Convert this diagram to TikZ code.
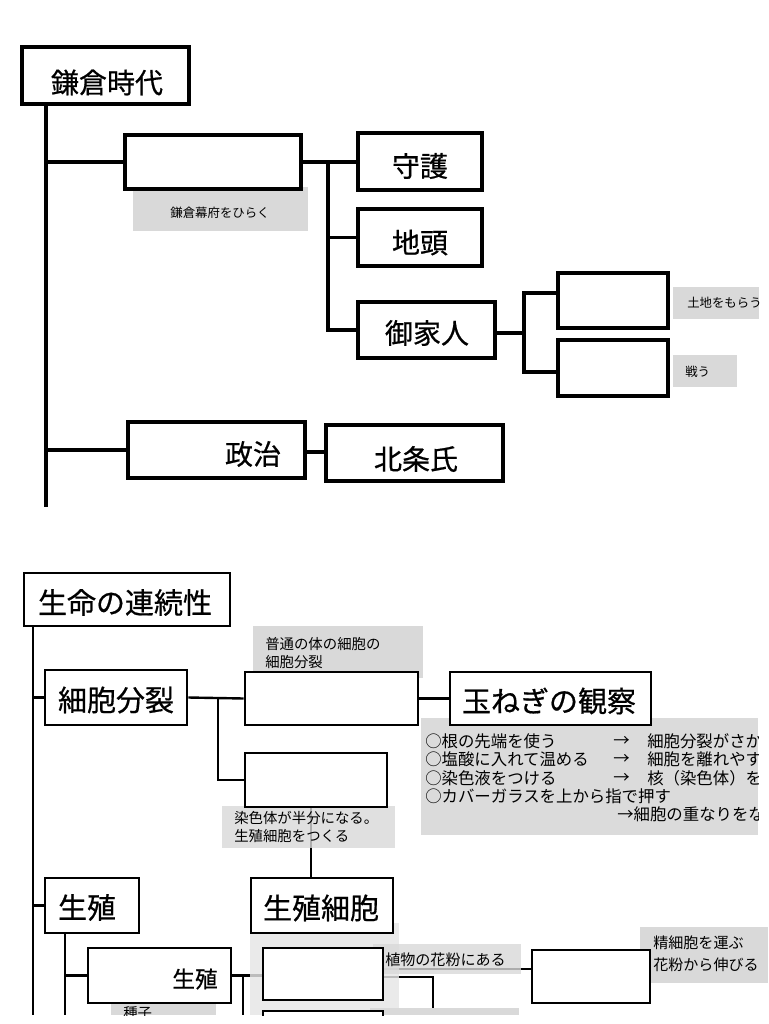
\documentclass[tikz,border=0pt]{standalone}
\usepackage{fontspec}
\setmainfont{Noto Sans CJK JP}
\newfontfamily\headfont[FakeBold=0.6]{Noto Sans CJK JP}
\usetikzlibrary{fit}
\definecolor{lbl}{HTML}{D9D9D9}
\definecolor{bgl}{HTML}{E6E6E6}
\pgfdeclarelayer{lines}
\pgfdeclarelayer{labels}
\pgfsetlayers{lines,labels,main}
\begin{document}
\begin{tikzpicture}[x=0.75pt,y=-0.75pt,
  tbox/.style={draw,line width=3pt,fill=white,inner sep=0pt},
  bbox/.style={draw,line width=2pt,fill=white,inner sep=0pt},
  tline/.style={line width=2.8pt},
  bline/.style={line width=1.8pt},
  glabel/.style={fill=lbl,draw=none,inner sep=0pt},
  hd/.style={inner sep=0pt,font=\headfont\fontsize{21}{21}\selectfont},
  hdb/.style={inner sep=0pt,font=\headfont\fontsize{21.75}{21.75}\selectfont},
  sm/.style={inner sep=0pt,anchor=west,font=\fontsize{9.3}{9.3}\selectfont},
  md/.style={inner sep=0pt,anchor=west,font=\fontsize{10.8}{10.8}\selectfont},
  mdl/.style={inner sep=0pt,anchor=west,font=\fontsize{11.3}{11.3}\selectfont},
  tx/.style={inner sep=0pt,anchor=west,font=\fontsize{12.3}{12.3}\selectfont}]
\useasboundingbox (0,0) rectangle (768,1024);
% ---------------- boxes (main layer) ----------------
\begin{scope}
\clip (0,0) rectangle (768,1015);
% top
\node[tbox, fit={(22,47)(189,104)}] (kam) {};
\node[tbox, fit={(125,135)(301,189)}] (b1) {};
\node[tbox, fit={(358,133)(482,190)}] (shugo) {};
\node[tbox, fit={(358,209)(482,266)}] (jito) {};
\node[tbox, fit={(358,302)(495,358)}] (goke) {};
\node[tbox, fit={(558,273)(668,328)}] (bA) {};
\node[tbox, fit={(558,340)(668,396)}] (bB) {};
\node[tbox, fit={(128,422)(305,478)}] (seiji) {};
\node[tbox, fit={(326,425)(503,481)}] (hojo) {};
% bottom
\node[bbox, fit={(24,573)(230,626)}] (seimei) {};
\node[bbox, fit={(45,670)(187,725)}] (bunretsu) {};
\node[bbox, fit={(245,672)(418,725)}] (bC) {};
\node[bbox, fit={(450,672)(651,725)}] (tama) {};
\node[bbox, fit={(245,753)(387,807)}] (bD) {};
\node[bbox, fit={(45,878)(139,933)}] (seishoku) {};
\node[bbox, fit={(251,878)(393,933)}] (ssaibou) {};
\node[bbox, fit={(88,948)(231,1003)}] (seishoku2) {};
\node[bbox, fit={(263,948)(383,1000)}] (bE) {};
\node[bbox, fit={(263,1011)(383,1040)}] (bF) {};
\node[bbox, fit={(532,950)(650,1003)}] (bG) {};
\end{scope}
% ---------------- connectors ----------------
\begin{pgfonlayer}{lines}
\fill[white] (0,0) rectangle (768,1024);
\coordinate (T1) at (46,507);
\draw[tline] (kam.south -| T1) -- (T1);
\draw[tline] (T1 |- b1.west) -- (b1.west);
\draw[tline] (T1 |- seiji.west) -- (seiji.west);
\draw[tline] (b1.east) -- (b1.east -| shugo.west);
\coordinate (V5) at (328,330);
\draw[tline] (V5 |- b1.east) -- (V5) -- (V5 -| goke.west);
\draw[tline] (V5 |- jito.west) -- (jito.west);
\coordinate (V6a) at (524,293);
\coordinate (V6b) at (524,372);
\draw[tline] (V6a -| bA.west) -- (V6a) -- (V6b) -- (V6b -| bB.west);
\draw[tline] (goke.east |- 0,333) -- (V6a |- 0,333);
\draw[tline] (seiji.east |- 0,452) -- (hojo.west |- 0,452);
% bottom
\coordinate (T2) at (33,1015);
\draw[bline] (seimei.south -| T2) -- (T2);
\draw[bline] (T2 |- bunretsu.west) -- (bunretsu.west);
\draw[bline] (T2 |- seishoku.west) -- (seishoku.west);
\draw[bline] (bunretsu.east) -- (bC.west);
\coordinate (J1) at (218,699);
\draw[bline] (J1) |- (bD.west);
\draw[bline] (bC.east) -- (tama.west);
\coordinate (V1) at (311,0);
\draw[bline] (bD.south -| V1) -- (ssaibou.north -| V1);
\coordinate (V2) at (65,1015);
\draw[bline] (seishoku.south -| V2) -- (V2);
\draw[bline] (V2 |- seishoku2.west) -- (seishoku2.west);
\draw[bline] (seishoku2.east) -- (seishoku2.east -| bE.west);
\coordinate (V3) at (243,1015);
\draw[bline] (V3 |- seishoku2.east) -- (V3);
\coordinate (V4) at (433,1015);
\draw[bline] (bE.east |- 0,977) -- (V4 |- 0,977) -- (V4);
\coordinate (H1) at (383,969);
\draw[bline] (H1) -- (H1 -| bG.west);
\end{pgfonlayer}
% ---------------- grey labels ----------------
\begin{pgfonlayer}{labels}
\node[glabel, fit={(133,187)(308,231)}] (g1) {};
\node[glabel, fit={(673,287)(759,319)}] (gA) {};
\node[glabel, fit={(673,355)(737,387)}] (gB) {};
\node[glabel, fit={(253,626)(423,678)}] (gFutsu) {};
\node[glabel, fill=lbl!95!white, fit={(421,718)(758,835)}] (gTama) {};
\node[glabel, fill opacity=0.8, fit={(222,806)(395,848)}] (gSen) {};
\node[glabel, fill=bgl, fill opacity=0.82, fit={(250,923)(399,1015)}] (gBig) {};
\node[glabel, fill opacity=0.8, fit={(373,944)(521,974)}] (gShoku) {};
\node[glabel, fit={(370,1008)(519,1015)}] (gLow) {};
\node[glabel, fit={(111,1004)(216,1015)}] (gShu) {};
\node[glabel, fit={(640,927)(768,983)}] (gSeisai) {};
\end{pgfonlayer}
% ---------------- texts ----------------
\node[hd] (tKam) at (107,82.5) {鎌倉時代};
\node[hd] (tShugo) at (420,166) {守護};
\node[hd] (tJito) at (420,242.5) {地頭};
\node[hd] (tGoke) at (427,333) {御家人};
\node[hd] (tSeiji) at (253,454) {政治};
\node[hd] (tHojo) at (416,459) {北条氏};
\node[sm, anchor=center] (tG1) at (220,213) {鎌倉幕府をひらく};
\begin{scope}
\clip (673,287) rectangle (759,319);
\node[sm] (tGA) at (687,303) {土地をもらう};
\end{scope}
\node[sm] (tGB) at (685,372) {戦う};
\node[hdb] (tSeimei) at (125,602.5) {生命の連続性};
\node[hdb] (tBun) at (116,700) {細胞分裂};
\node[hdb] (tTama) at (549,701) {玉ねぎの観察};
\node[hdb] (tSei) at (87,907.5) {生殖};
\node[hdb] (tSS) at (321,908) {生殖細胞};
\node[inner sep=0pt,font=\headfont\fontsize{17}{17}\selectfont] (tSei2) at (195,979) {生殖};
\node[md] (tF1) at (265,644) {普通の体の細胞の};
\node[md] (tF2) at (265,662.5) {細胞分裂};
\node[md] (tS1) at (234,818) {染色体が半分になる。};
\node[md] (tS2) at (234,836) {生殖細胞をつくる};
\node[mdl] (tShoku) at (385,960) {植物の花粉にある};
\node[mdl] (tSe1) at (653,943) {精細胞を運ぶ};
\node[mdl] (tSe2) at (653,965) {花粉から伸びる};
\begin{scope}
\clip (0,0) rectangle (768,1015);
\node[md] (tShu) at (123,1013) {種子};
\end{scope}
\begin{scope}
\clip (421,718) rectangle (758,835);
\node[tx] (l1a) at (425,741) {○根の先端を使う};
\node[tx] (l1b) at (613,741) {→};
\node[tx] (l1c) at (647,741) {細胞分裂がさかん};
\node[tx] (l2a) at (425,759) {○塩酸に入れて温める};
\node[tx] (l2b) at (613,759) {→};
\node[tx] (l2c) at (647,759) {細胞を離れやすくする};
\node[tx] (l3a) at (425,778) {○染色液をつける};
\node[tx] (l3b) at (613,778) {→};
\node[tx] (l3c) at (647,778) {核（染色体）を見やすくする};
\node[tx] (l4a) at (425,796) {○カバーガラスを上から指で押す};
\node[tx] (l5a) at (617,814) {→細胞の重なりをなくす};
\end{scope}
\end{tikzpicture}
\end{document}
